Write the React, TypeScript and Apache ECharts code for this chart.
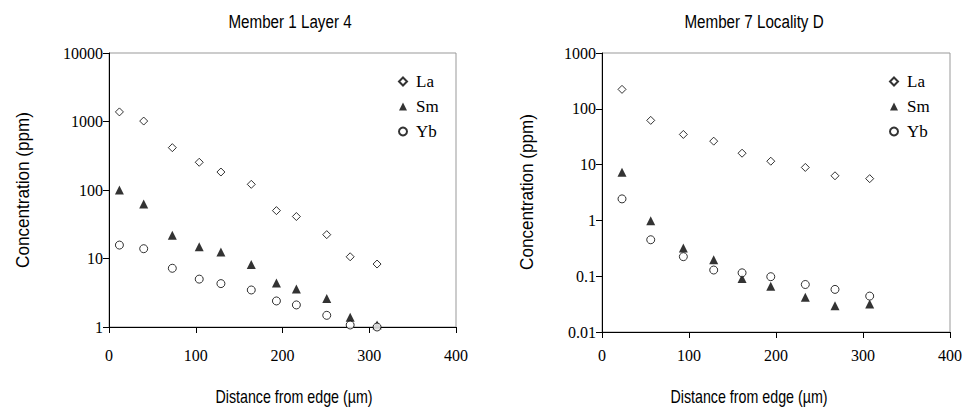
import React, { useEffect, useRef } from "react";
import * as echarts from "echarts";

// Member 1 Layer 4
const distA = [12, 40, 73, 104, 129, 164, 193, 216, 251, 278, 309];
const laA = [1380, 1015, 415, 254, 183, 121, 50, 41, 22.3, 10.6, 8.3];
const smA = [100, 62.5, 21.8, 14.9, 12.4, 8.2, 4.4, 3.6, 2.6, 1.39, 1.07];
const ybA = [15.7, 13.9, 7.2, 5.0, 4.3, 3.47, 2.4, 2.1, 1.48, 1.07, 1.0];

// Member 7 Locality D
const distB = [23, 56, 93.5, 128.4, 161, 194, 233.7, 267.8, 307.7];
const laB = [223, 62, 34.7, 26.3, 16, 11.5, 8.9, 6.3, 5.6];
const smB = [7.3, 0.99, 0.32, 0.198, 0.091, 0.066, 0.042, 0.0296, 0.0316];
const ybB = [2.43, 0.45, 0.224, 0.129, 0.115, 0.098, 0.071, 0.058, 0.044];

const titles = ["Member 1 Layer 4", "Member 7 Locality D"];
const xName = "Distance from edge (\u00b5m)";
const yName = "Concentration (ppm)";
const elements = ["La", "Sm", "Yb"];

const serif = "Liberation Serif";
const sans = "'Liberation Sans'";

const zip = (xs: number[], ys: number[]) => xs.map((x, i) => [x, ys[i]]);

function seriesFor(idx: number, d: number[], la: number[], sm: number[], yb: number[]) {
  const common = { type: "scatter", xAxisIndex: idx, yAxisIndex: idx };
  return [
    {
      ...common,
      name: elements[0],
      data: zip(d, la),
      symbol: "diamond",
      symbolSize: 8,
      itemStyle: { color: "#fff", borderColor: "#000", borderWidth: 1 },
    },
    {
      ...common,
      name: elements[1],
      data: zip(d, sm),
      symbol: "triangle",
      symbolSize: 9,
      itemStyle: { color: "#000" },
    },
    {
      ...common,
      name: elements[2],
      data: zip(d, yb),
      symbol: "circle",
      symbolSize: 8,
      itemStyle: { color: "#fff", borderColor: "#000", borderWidth: 1 },
    },
  ];
}

const fmt = (v: number) => String(+Number(v).toPrecision(1));

function xAxisFor(idx: number, margin: number) {
  return {
    type: "value",
    gridIndex: idx,
    min: 0,
    max: 400,
    interval: 100,
    axisLine: { show: true, onZero: false, lineStyle: { color: "#000", width: 1 } },
    axisTick: { show: true, length: 6, lineStyle: { color: "#000" } },
    splitLine: { show: false },
    axisLabel: { fontFamily: serif, fontSize: 16, color: "#000", margin },
  };
}

function yAxisFor(idx: number, min: number, max: number) {
  return {
    type: "log",
    logBase: 10,
    gridIndex: idx,
    min,
    max,
    axisLine: { show: true, lineStyle: { color: "#000", width: 1 } },
    axisTick: { show: true, length: 6, lineStyle: { color: "#000" } },
    minorTick: { show: false },
    splitLine: { show: false },
    axisLabel: { fontFamily: serif, fontSize: 16, color: "#000", margin: 6, formatter: fmt },
  };
}

function legendFor(left: number) {
  return {
    orient: "vertical",
    left,
    top: 73,
    padding: 0,
    itemWidth: 8,
    itemHeight: 8,
    itemGap: 8,
    data: elements.map((n) => ({ name: n })),
    textStyle: { fontFamily: serif, fontSize: 17, color: "#000", padding: [0, 0, 0, 4] },
    selectedMode: false,
  };
}

const txt = (text: string, x: number, y: number, size: number, sx: number, rot = 0) => ({
  type: "text",
  x,
  y,
  rotation: rot,
  scaleX: sx,
  style: {
    text,
    font: `${size}px ${sans}`,
    fill: "#000",
    textAlign: "center",
    textVerticalAlign: "middle",
  },
});

export default function App() {
  const ref = useRef<HTMLDivElement>(null);
  useEffect(() => {
    document.body.style.margin = "0";
    if (!ref.current) return;
    const chart = echarts.init(ref.current, null, { renderer: "svg" });
    const option: any = {
      animation: false,
      backgroundColor: "#fff",
      grid: [
        { left: 109, top: 53, width: 347, height: 274, show: true, borderColor: "#999", borderWidth: 1, backgroundColor: "transparent" },
        { left: 602, top: 53, width: 348, height: 279, show: true, borderColor: "#999", borderWidth: 1, backgroundColor: "transparent" },
      ],
      xAxis: [xAxisFor(0, 20), xAxisFor(1, 15)],
      yAxis: [yAxisFor(0, 1, 10000), yAxisFor(1, 0.01, 1000)],
      legend: [legendFor(398), legendFor(889)],
      series: [
        ...seriesFor(0, distA, laA, smA, ybA),
        ...seriesFor(1, distB, laB, smB, ybB),
      ],
      graphic: [
        txt(titles[0], 290, 21, 19, 0.8),
        txt(titles[1], 754, 21, 19, 0.8),
        txt(xName, 294, 397, 19, 0.75),
        txt(xName, 749, 397, 19, 0.75),
        txt(yName, 23, 190, 19, 0.9, Math.PI / 2),
        txt(yName, 527, 192, 19, 0.9, Math.PI / 2),
      ],
    };
    chart.setOption(option);
    return () => chart.dispose();
  }, []);
  return <div ref={ref} style={{ width: 971, height: 413 }} />;
}
